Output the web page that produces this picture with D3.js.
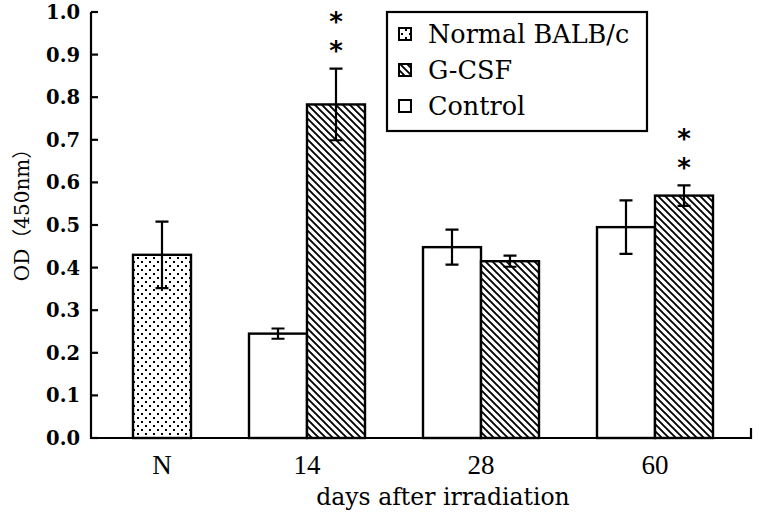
<!DOCTYPE html>
<html><head><meta charset="utf-8">
<script src="https://cdn.jsdelivr.net/npm/d3@7"></script>
<style>body{margin:0;background:#fff}</style>
</head><body><svg id="c" width="759" height="524"></svg>
<script>
// ---- data ----
const categories = ["N", "14", "28", "60"];
const normalMean = [0.430, null, null, null];
const normalErr  = [0.078, null, null, null];
const gcsfMean   = [null, 0.783, 0.415, 0.569];
const gcsfErr    = [null, 0.084, 0.013, 0.024];
const controlMean = [null, 0.245, 0.448, 0.495];
const controlErr  = [null, 0.012, 0.041, 0.063];
const gcsfStars  = [0, 2, 0, 2];
const yTicks = [0.0, 0.1, 0.2, 0.3, 0.4, 0.5, 0.6, 0.7, 0.8, 0.9, 1.0];
const seriesNames = ["Normal BALB/c", "G-CSF", "Control"];
const xTitle = "days after irradiation";
const yTitle = "OD（450nm）";

// ---- layout ----
const axisLeft = 91, axisRight = 751, axisTop = 12, axisBottom = 438;
const serif = "'DejaVu Serif', 'Liberation Serif', serif";
const times = "'Liberation Serif', 'DejaVu Serif', serif";

const svg = d3.select("#c");
const defs = svg.append("defs");
const dots = defs.append("pattern").attr("id", "dots").attr("patternUnits", "userSpaceOnUse")
  .attr("width", 8).attr("height", 8);
dots.append("rect").attr("width", 8).attr("height", 8).attr("fill", "#fff");
dots.append("rect").attr("x", 1).attr("y", 1).attr("width", 2).attr("height", 2).attr("fill", "#000");
dots.append("rect").attr("x", 5).attr("y", 5).attr("width", 2).attr("height", 2).attr("fill", "#000");
const hatch = defs.append("pattern").attr("id", "hatch").attr("patternUnits", "userSpaceOnUse")
  .attr("width", 7).attr("height", 7);
hatch.append("rect").attr("width", 7).attr("height", 7).attr("fill", "#fff");
hatch.append("path").attr("d", "M0,0L7,7M-2,5L2,9M5,-2L9,2").attr("stroke", "#000").attr("stroke-width", 1.9);

const fills = {"Normal BALB/c": "url(#dots)", "G-CSF": "url(#hatch)", "Control": "#fff"};

const x = d3.scaleBand().domain(categories).range([75, 771]);
const slot = d3.scaleBand().domain(["Control", "Treated", "_"]).range([0, x.bandwidth()]);
const y = d3.scaleLinear().domain([0, 1]).range([axisBottom, axisTop]);

const bars = [];
categories.forEach((c, i) => {
  if (normalMean[i] != null) bars.push({c, s: "Normal BALB/c", slot: "Treated", v: normalMean[i], e: normalErr[i], stars: 0});
  if (controlMean[i] != null) bars.push({c, s: "Control", slot: "Control", v: controlMean[i], e: controlErr[i], stars: 0});
  if (gcsfMean[i] != null) bars.push({c, s: "G-CSF", slot: "Treated", v: gcsfMean[i], e: gcsfErr[i], stars: gcsfStars[i]});
});

const g = svg.append("g");
g.selectAll("rect.bar").data(bars).join("rect").attr("class", "bar")
  .attr("x", d => x(d.c) + slot(d.slot))
  .attr("width", slot.bandwidth())
  .attr("y", d => y(d.v))
  .attr("height", d => y(0) - y(d.v))
  .attr("fill", d => fills[d.s])
  .attr("stroke", "#000").attr("stroke-width", 2.4);

// error bars
const cx = d => x(d.c) + slot(d.slot) + slot.bandwidth() / 2;
g.selectAll("path.err").data(bars).join("path").attr("class", "err")
  .attr("d", d => {
    const xc = cx(d), t = y(d.v + d.e), b = y(d.v - d.e);
    return `M${xc},${t}V${b}M${xc-6.5},${t}H${xc+6.5}M${xc-6.5},${b}H${xc+6.5}`;
  })
  .attr("fill", "none").attr("stroke", "#000").attr("stroke-width", 2.2);

// significance stars
bars.filter(d => d.stars > 0).forEach(d => {
  for (let k = 0; k < d.stars; k++) {
    g.append("text").attr("x", cx(d)).attr("y", y(d.v + d.e) - 25 - k * 29)
      .attr("text-anchor", "middle").attr("dy", "0.62em")
      .attr("font-family", "'DejaVu Sans', sans-serif").attr("font-weight", "bold")
      .attr("font-size", 26).text("*");
  }
});

// axes
const ax = svg.append("g");
ax.append("path").attr("d", `M${axisLeft},${axisTop}V${axisBottom}H${axisRight}V${axisBottom-10}`)
  .attr("fill", "none").attr("stroke", "#000").attr("stroke-width", 2.2);
ax.selectAll("line.tk").data(yTicks).join("line").attr("class", "tk")
  .attr("x1", axisLeft).attr("x2", axisLeft + 7)
  .attr("y1", d => y(d)).attr("y2", d => y(d))
  .attr("stroke", "#000").attr("stroke-width", 2.2);
ax.selectAll("text.tl").data(yTicks).join("text").attr("class", "tl")
  .attr("x", axisLeft - 11).attr("y", d => y(d)).attr("dy", "0.36em")
  .attr("text-anchor", "end").attr("font-family", serif).attr("font-weight", "bold")
  .attr("font-size", 19.5).text(d => d.toFixed(1));

// category labels
const labelX = c => d3.mean(bars.filter(b => b.c === c), b => cx(b));
svg.selectAll("text.cat").data(categories).join("text").attr("class", "cat")
  .attr("x", d => labelX(d)).attr("y", 474)
  .attr("text-anchor", "middle").attr("font-family", times).attr("font-size", 27).text(d => d);

svg.append("text").attr("x", 443).attr("y", 505).attr("text-anchor", "middle")
  .attr("font-family", serif).attr("font-size", 23.5).text(xTitle);

svg.append("text").attr("transform", "translate(29,210) rotate(-90)").attr("text-anchor", "middle")
  .attr("font-family", serif + ", 'Noto Sans CJK SC'").attr("font-size", 20).text(yTitle);

// legend
const lg = svg.append("g");
lg.append("rect").attr("x", 387).attr("y", 12).attr("width", 260).attr("height", 119)
  .attr("fill", "#fff").attr("stroke", "#000").attr("stroke-width", 2.2);
const ly = d3.scalePoint().domain(seriesNames).range([34, 106]);
lg.selectAll("rect.ic").data(seriesNames).join("rect").attr("class", "ic")
  .attr("x", 399).attr("y", d => ly(d) - 6).attr("width", 12).attr("height", 12)
  .attr("fill", d => fills[d]).attr("stroke", "#000").attr("stroke-width", 2);
lg.selectAll("text.lt").data(seriesNames).join("text").attr("class", "lt")
  .attr("x", 428).attr("y", d => ly(d)).attr("dy", "0.36em")
  .attr("font-family", serif).attr("font-size", 25.5).text(d => d);
</script></body></html>
